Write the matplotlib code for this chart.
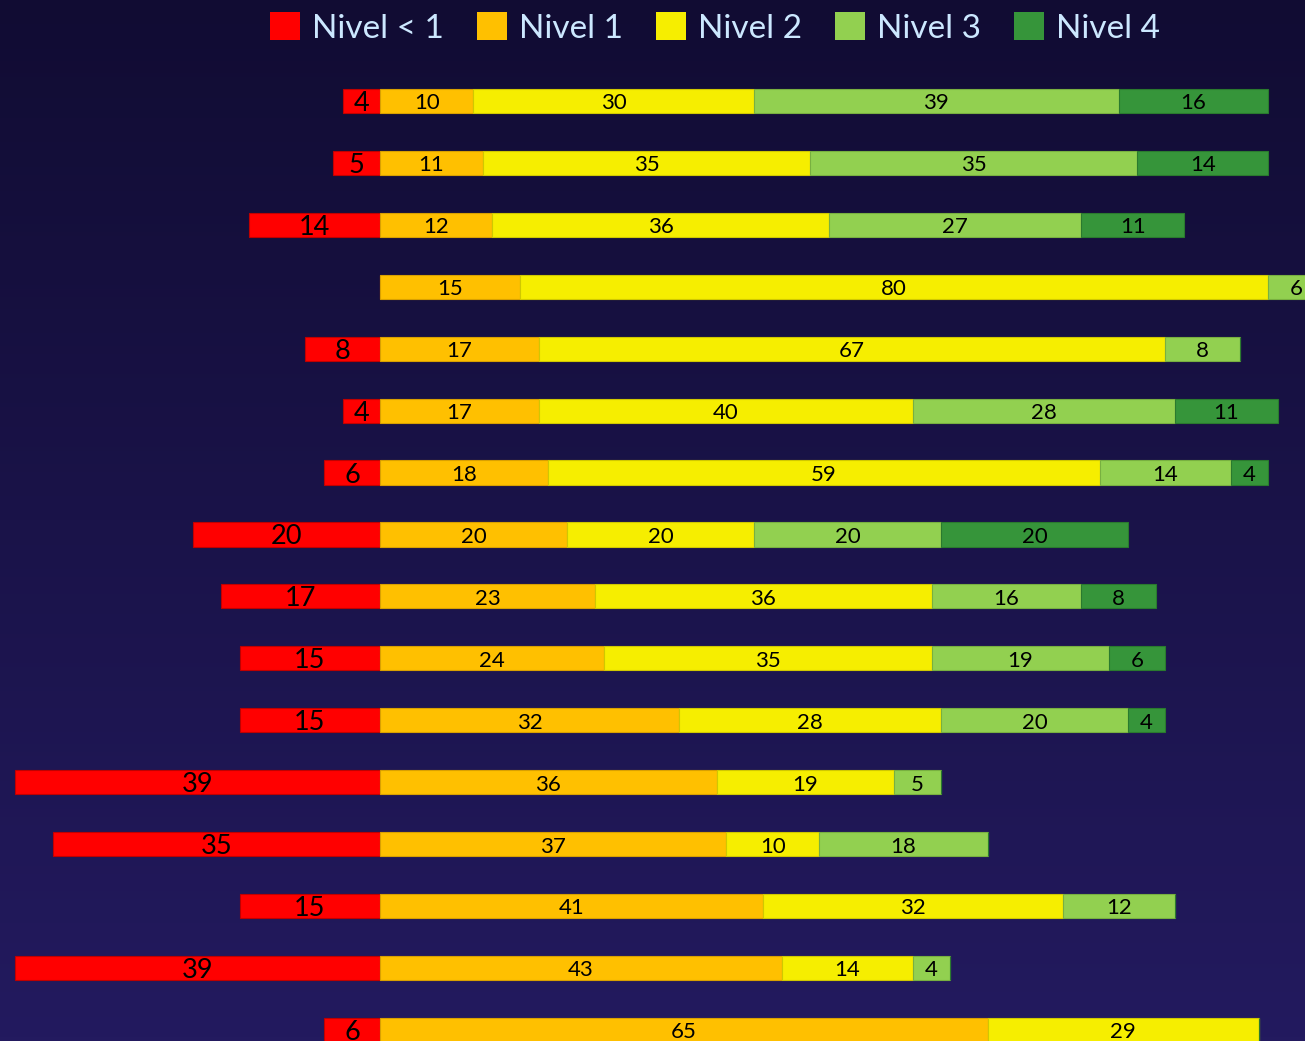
import numpy as np
import matplotlib.pyplot as plt
from matplotlib.colors import LinearSegmentedColormap
from matplotlib.patches import Patch

levels = ["Nivel < 1", "Nivel 1", "Nivel 2", "Nivel 3", "Nivel 4"]
colors = ["#ff0000", "#ffc000", "#f6ee00", "#92d050", "#36953a"]
edges = ["#c00000", "#d9a000", "#d0c800", "#78b040", "#2a7a2e"]

# values per row, top to bottom
nivel_0 = [4, 5, 14, 0, 8, 4, 6, 20, 17, 15, 15, 39, 35, 15, 39, 6]
nivel_1 = [10, 11, 12, 15, 17, 17, 18, 20, 23, 24, 32, 36, 37, 41, 43, 65]
nivel_2 = [30, 35, 36, 80, 67, 40, 59, 20, 36, 35, 28, 19, 10, 32, 14, 29]
nivel_3 = [39, 35, 27, 6, 8, 28, 14, 20, 16, 19, 20, 5, 18, 12, 4, 0]
nivel_4 = [16, 14, 11, 0, 0, 11, 4, 20, 8, 6, 4, 0, 0, 0, 0, 0]

fig = plt.figure(figsize=(13.05, 10.41), dpi=100)

# gradient background
bg = fig.add_axes([0, 0, 1, 1], zorder=0)
cmap = LinearSegmentedColormap.from_list("bg", ["#110c33", "#231a5f"])
bg.imshow(np.linspace(0, 1, 256).reshape(-1, 1), aspect="auto", cmap=cmap,
          extent=[0, 1, 0, 1], origin="upper")
bg.axis("off")

ax = fig.add_axes([0, 0, 1, 1], zorder=1)
ax.patch.set_alpha(0)

y = np.arange(len(nivel_1))
h = 0.39

# Nivel < 1 goes to the left of zero
neg = np.array(nivel_0)
ax.barh(y, -neg, height=h, color=colors[0], edgecolor=edges[0], lw=0.8)
for yi, v in zip(y, neg):
    if v > 0:
        ax.text(-v / 2, yi + 0.04, str(v), ha="center", va="center",
                fontsize=19.5, family="Lato", color="black")

left = np.zeros(len(y))
for vals, c, ec in zip([nivel_1, nivel_2, nivel_3, nivel_4], colors[1:], edges[1:]):
    vals = np.array(vals)
    ax.barh(y, vals, left=left, height=h, color=c, edgecolor=ec, lw=0.8)
    for yi, l, v in zip(y, left, vals):
        if v > 0:
            ax.text(l + v / 2, yi + 0.04, str(v), ha="center", va="center",
                    fontsize=16, family="Lato", color="black")
    left = left + vals

ax.set_xlim(-40.64, 98.93)
ax.set_ylim(15.18, -1.631)
ax.axis("off")

handles = [Patch(facecolor=c, edgecolor="none") for c in colors]
leg = fig.legend(handles, levels, loc="center", bbox_to_anchor=(0.548, 0.973),
                 ncol=5, frameon=False, handlelength=0.9, handleheight=0.9,
                 handletextpad=0.35, columnspacing=1.0,
                 prop={"family": "Lato", "size": 24})
for t in leg.get_texts():
    t.set_color("#cce8ff")

plt.savefig("out.png", dpi=100)
